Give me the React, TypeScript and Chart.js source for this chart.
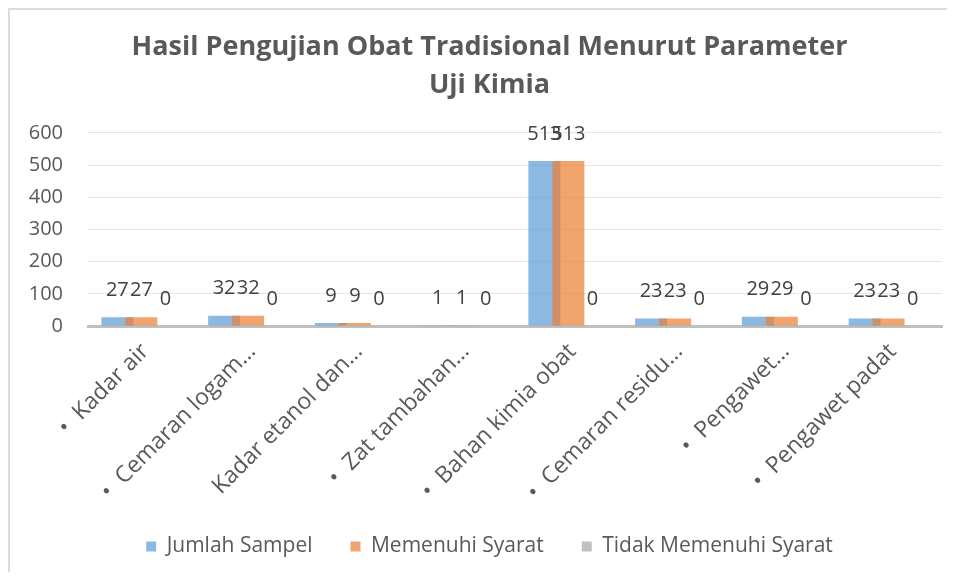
import React, { useEffect, useRef } from 'react';
import { Chart, registerables } from 'chart.js';

Chart.register(...registerables);

const categories = [
  'Kadar air',
  'Cemaran logam…',
  'Kadar etanol dan…',
  'Zat tambahan…',
  'Bahan kimia obat',
  'Cemaran residu…',
  'Pengawet…',
  'Pengawet padat',
];
const seriesNames = ['Jumlah Sampel', 'Memenuhi Syarat', 'Tidak Memenuhi Syarat'];
const jumlahSampel = [27, 32, 9, 1, 513, 23, 29, 23];
const memenuhiSyarat = [27, 32, 9, 1, 513, 23, 29, 23];
const tidakMemenuhiSyarat = [0, 0, 0, 0, 0, 0, 0, 0];
const yMin = 0;
const yMax = 600;
const yStep = 100;
const titleLines = ['Hasil Pengujian Obat Tradisional Menurut Parameter', 'Uji Kimia'];

const FONT = '"Open Sans"';
const TEXT = '#595959';

const overlapOrder = {
  id: 'overlapOrder',
  beforeDatasetDraw(chart: any, args: any) {
    if (args.index === 1) return false;
  },
  afterDatasetDraw(chart: any, args: any) {
    if (args.index === 0) {
      chart.getDatasetMeta(1).controller.draw();
    }
  },
};

const valueLabels = {
  id: 'valueLabels',
  afterDatasetsDraw(chart: any) {
    const ctx = chart.ctx;
    ctx.save();
    ctx.font = `20px ${FONT}`;
    ctx.fillStyle = '#404040';
    ctx.textAlign = 'center';
    ctx.textBaseline = 'middle';
    chart.data.datasets.forEach((ds: any, i: number) => {
      const meta = chart.getDatasetMeta(i);
      meta.data.forEach((bar: any, j: number) => {
        ctx.fillText(String(ds.data[j]), bar.x, bar.y - 27);
      });
    });
    ctx.restore();
  },
};

export default function App() {
  const ref = useRef<HTMLCanvasElement | null>(null);
  useEffect(() => {
    if (!ref.current) return;
    const chart = new Chart(ref.current, {
      type: 'bar',
      data: {
        labels: categories,
        datasets: [
          { label: seriesNames[0], data: jumlahSampel, backgroundColor: 'rgba(91,155,213,0.7)' },
          { label: seriesNames[1], data: memenuhiSyarat, backgroundColor: 'rgba(237,125,49,0.7)' },
          { label: seriesNames[2], data: tidakMemenuhiSyarat, backgroundColor: 'rgba(165,165,165,0.7)' },
        ],
      },
      options: {
        animation: false,
        responsive: true,
        maintainAspectRatio: false,
        datasets: { bar: { categoryPercentage: 0.6745, barPercentage: 1.333 } },
        layout: { padding: { top: 0, left: 0, right: 0, bottom: 5 } },
        plugins: {
          tooltip: { enabled: false },
          title: {
            display: true,
            text: titleLines,
            color: TEXT,
            font: { family: FONT, size: 27, weight: 'bold', lineHeight: 1.407 },
            padding: { top: 18, bottom: 29 },
          },
          legend: {
            position: 'bottom',
            labels: {
              color: TEXT,
              font: { family: FONT, size: 21 },
              boxWidth: 10,
              boxHeight: 10,
              padding: 38,
            },
          },
        },
        scales: {
          x: {
            grid: { display: false, drawTicks: false },
            border: { display: true, color: '#BFBFBF', width: 3 },
            ticks: {
              color: TEXT,
              font: { family: FONT, size: 23 },
              autoSkip: false,
              maxRotation: 45,
              minRotation: 45,
              padding: 12,
              labelOffset: 4,
              callback: (_v: any, i: number) => '•  ' + categories[i],
            },
            afterFit: (axis: any) => { axis.height = 172; },
          },
          y: {
            min: yMin,
            max: yMax,
            grid: { color: '#E6E6E6', drawTicks: false, lineWidth: 1 },
            border: { display: false },
            ticks: { stepSize: yStep, color: TEXT, font: { family: FONT, size: 20 }, padding: 25 },
            afterFit: (axis: any) => { axis.width = 78; },
          },
          y2: {
            type: 'linear',
            position: 'right',
            display: true,
            grid: { display: false, drawTicks: false },
            border: { display: false },
            ticks: { display: false },
            afterFit: (axis: any) => { axis.width = 27; },
          },
        },
      },
      plugins: [overlapOrder, valueLabels],
    });
    return () => chart.destroy();
  }, []);

  return (
    <div
      style={{
        width: 947,
        height: 564,
        borderTop: '2px solid #DCDCDC',
        borderLeft: '2px solid #DCDCDC',
        boxSizing: 'border-box',
        background: '#fff',
        overflow: 'hidden',
      }}
    >
      <div style={{ position: 'relative', width: 959, height: 562 }}>
        <canvas ref={ref} />
      </div>
    </div>
  );
}
